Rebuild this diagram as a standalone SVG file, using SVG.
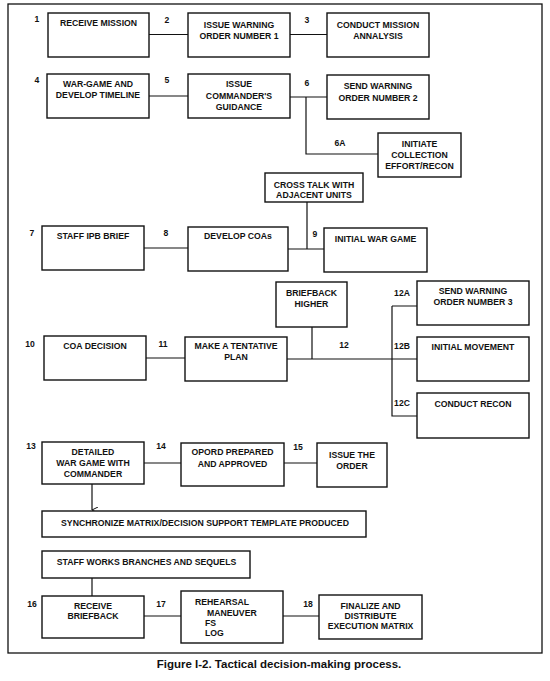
<svg xmlns="http://www.w3.org/2000/svg" width="550" height="681" viewBox="0 0 550 681">
<style>
.b{fill:#fff;stroke:#111;stroke-width:1.4}
.t{font-family:"Liberation Sans",Arial,sans-serif;font-weight:bold;font-size:8.7px;fill:#111;text-anchor:middle}
.l{text-anchor:start}
.n{font-family:"Liberation Sans",Arial,sans-serif;font-weight:bold;font-size:8.6px;fill:#111;text-anchor:middle}
.c{fill:none;stroke:#111;stroke-width:1.2}
</style>
<defs>
<marker id="ah" markerWidth="8" markerHeight="8" refX="3.5" refY="6" orient="auto" markerUnits="userSpaceOnUse">
<path d="M0.5,0 L3.5,6 L6.5,0" fill="none" stroke="#111" stroke-width="1"/>
</marker>
</defs>
<rect x="8" y="4" width="534" height="649" fill="#fff" stroke="#111" stroke-width="1.3"/>
<g id="connectors">
<path class="c" d="M149,34.5H188M290,34.5H327"/>
<path class="c" d="M149,96H188M290,97H327M306,97V154H378"/>
<path class="c" d="M144,248H188M288,249H324M307,202V249"/>
<path class="c" d="M146,358H185M287,359H417M312,327V359M392,306H417M392,306V416H417"/>
<path class="c" d="M144,463H181M284,463H317"/>
<path class="c" d="M92,484V510" marker-end="url(#ah)"/>
<path class="c" d="M92,578V596M144,616H181M283,616H319"/>
</g>
<g id="n1"><rect class="b" x="48" y="13" width="101" height="44"/><text class="n" x="37" y="22">1</text><text class="t" x="98.5" y="26">RECEIVE MISSION</text></g>
<g id="n2"><rect class="b" x="188" y="13" width="102" height="44"/><text class="n" x="167" y="22.5">2</text><text class="t" x="239" y="28">ISSUE WARNING</text><text class="t" x="239" y="38.5">ORDER NUMBER 1</text></g>
<g id="n3"><rect class="b" x="327" y="13" width="102" height="44"/><text class="n" x="307" y="22.5">3</text><text class="t" x="378" y="28">CONDUCT MISSION</text><text class="t" x="378" y="38.5">ANNALYSIS</text></g>
<g id="n4"><rect class="b" x="47" y="74" width="102" height="44"/><text class="n" x="37" y="83">4</text><text class="t" x="98" y="87">WAR-GAME AND</text><text class="t" x="98" y="98">DEVELOP TIMELINE</text></g>
<g id="n5"><rect class="b" x="188" y="74" width="102" height="44"/><text class="n" x="167" y="83">5</text><text class="t" x="239" y="87">ISSUE</text><text class="t" x="239" y="98.5">COMMANDER'S</text><text class="t" x="239" y="110">GUIDANCE</text></g>
<g id="n6"><rect class="b" x="327" y="75" width="102" height="44"/><text class="n" x="307" y="86">6</text><text class="t" x="378" y="89">SEND WARNING</text><text class="t" x="378" y="101">ORDER NUMBER 2</text></g>
<g id="n6a"><rect class="b" x="378" y="133" width="83" height="44"/><text class="n" x="340" y="145.5">6A</text><text class="t" x="419.5" y="147">INITIATE</text><text class="t" x="419.5" y="158">COLLECTION</text><text class="t" x="419.5" y="169">EFFORT/RECON</text></g>
<g id="ncross"><rect class="b" x="265" y="173" width="98" height="29"/><text class="t" x="314" y="188">CROSS TALK WITH</text><text class="t" x="314" y="197.5">ADJACENT UNITS</text></g>
<g id="n7"><rect class="b" x="42" y="226" width="102" height="44"/><text class="n" x="32" y="236">7</text><text class="t" x="93" y="239">STAFF IPB BRIEF</text></g>
<g id="n8"><rect class="b" x="188" y="227" width="100" height="44"/><text class="n" x="166" y="236">8</text><text class="t" x="238" y="239">DEVELOP COAs</text></g>
<g id="n9"><rect class="b" x="324" y="228" width="103" height="44"/><text class="n" x="315" y="237">9</text><text class="t" x="375.5" y="242">INITIAL WAR GAME</text></g>
<g id="nbrief"><rect class="b" x="276" y="282" width="71" height="45"/><text class="t" x="311.5" y="296">BRIEFBACK</text><text class="t" x="311.5" y="307">HIGHER</text></g>
<g id="n10"><rect class="b" x="44" y="336" width="102" height="44"/><text class="n" x="30" y="347">10</text><text class="t" x="95" y="349">COA DECISION</text></g>
<g id="n11"><rect class="b" x="185" y="337" width="102" height="44"/><text class="n" x="163" y="347">11</text><text class="n" x="344" y="347.5">12</text><text class="t" x="236" y="349">MAKE A TENTATIVE</text><text class="t" x="236" y="360">PLAN</text></g>
<g id="n12a"><rect class="b" x="417" y="281" width="112" height="44"/><text class="n" x="402" y="296">12A</text><text class="t" x="473" y="294">SEND WARNING</text><text class="t" x="473" y="305">ORDER NUMBER 3</text></g>
<g id="n12b"><rect class="b" x="417" y="337" width="112" height="44"/><text class="n" x="402" y="349">12B</text><text class="t" x="473" y="350">INITIAL MOVEMENT</text></g>
<g id="n12c"><rect class="b" x="417" y="393" width="112" height="45"/><text class="n" x="402" y="406">12C</text><text class="t" x="473" y="407">CONDUCT RECON</text></g>
<g id="n13"><rect class="b" x="42" y="442" width="102" height="42"/><text class="n" x="31" y="449">13</text><text class="t" x="93" y="455">DETAILED</text><text class="t" x="93" y="466">WAR GAME WITH</text><text class="t" x="93" y="477">COMMANDER</text></g>
<g id="n14"><rect class="b" x="181" y="443" width="103" height="43"/><text class="n" x="161" y="449">14</text><text class="t" x="232.5" y="455">OPORD PREPARED</text><text class="t" x="232.5" y="466.5">AND APPROVED</text></g>
<g id="n15"><rect class="b" x="317" y="443" width="70" height="44"/><text class="n" x="298" y="450">15</text><text class="t" x="352" y="458">ISSUE THE</text><text class="t" x="352" y="468.5">ORDER</text></g>
<g id="nsync"><rect class="b" x="42" y="511" width="324" height="26"/><text class="t" x="205" y="525.5">SYNCHRONIZE MATRIX/DECISION SUPPORT TEMPLATE PRODUCED</text></g>
<g id="nstaff"><rect class="b" x="42" y="551" width="208" height="27"/><text class="t" x="146.5" y="565">STAFF WORKS BRANCHES AND SEQUELS</text></g>
<g id="n16"><rect class="b" x="42" y="596" width="102" height="42"/><text class="n" x="32" y="606.5">16</text><text class="t" x="93" y="609">RECEIVE</text><text class="t" x="93" y="619">BRIEFBACK</text></g>
<g id="n17"><rect class="b" x="181" y="591" width="102" height="52"/><text class="n" x="161" y="606.5">17</text><text class="t l" x="195" y="605">REHEARSAL</text><text class="t l" x="207" y="615.5">MANEUVER</text><text class="t l" x="205" y="626">FS</text><text class="t l" x="205" y="636">LOG</text></g>
<g id="n18"><rect class="b" x="319" y="595" width="103" height="44"/><text class="n" x="308" y="607">18</text><text class="t" x="370.5" y="609">FINALIZE AND</text><text class="t" x="370.5" y="619">DISTRIBUTE</text><text class="t" x="370.5" y="629">EXECUTION MATRIX</text></g>
<text x="279" y="668" style="font-family:'Liberation Sans',Arial,sans-serif;font-weight:bold;font-size:11.5px;fill:#111;text-anchor:middle">Figure I-2. Tactical decision-making process.</text>
</svg>
